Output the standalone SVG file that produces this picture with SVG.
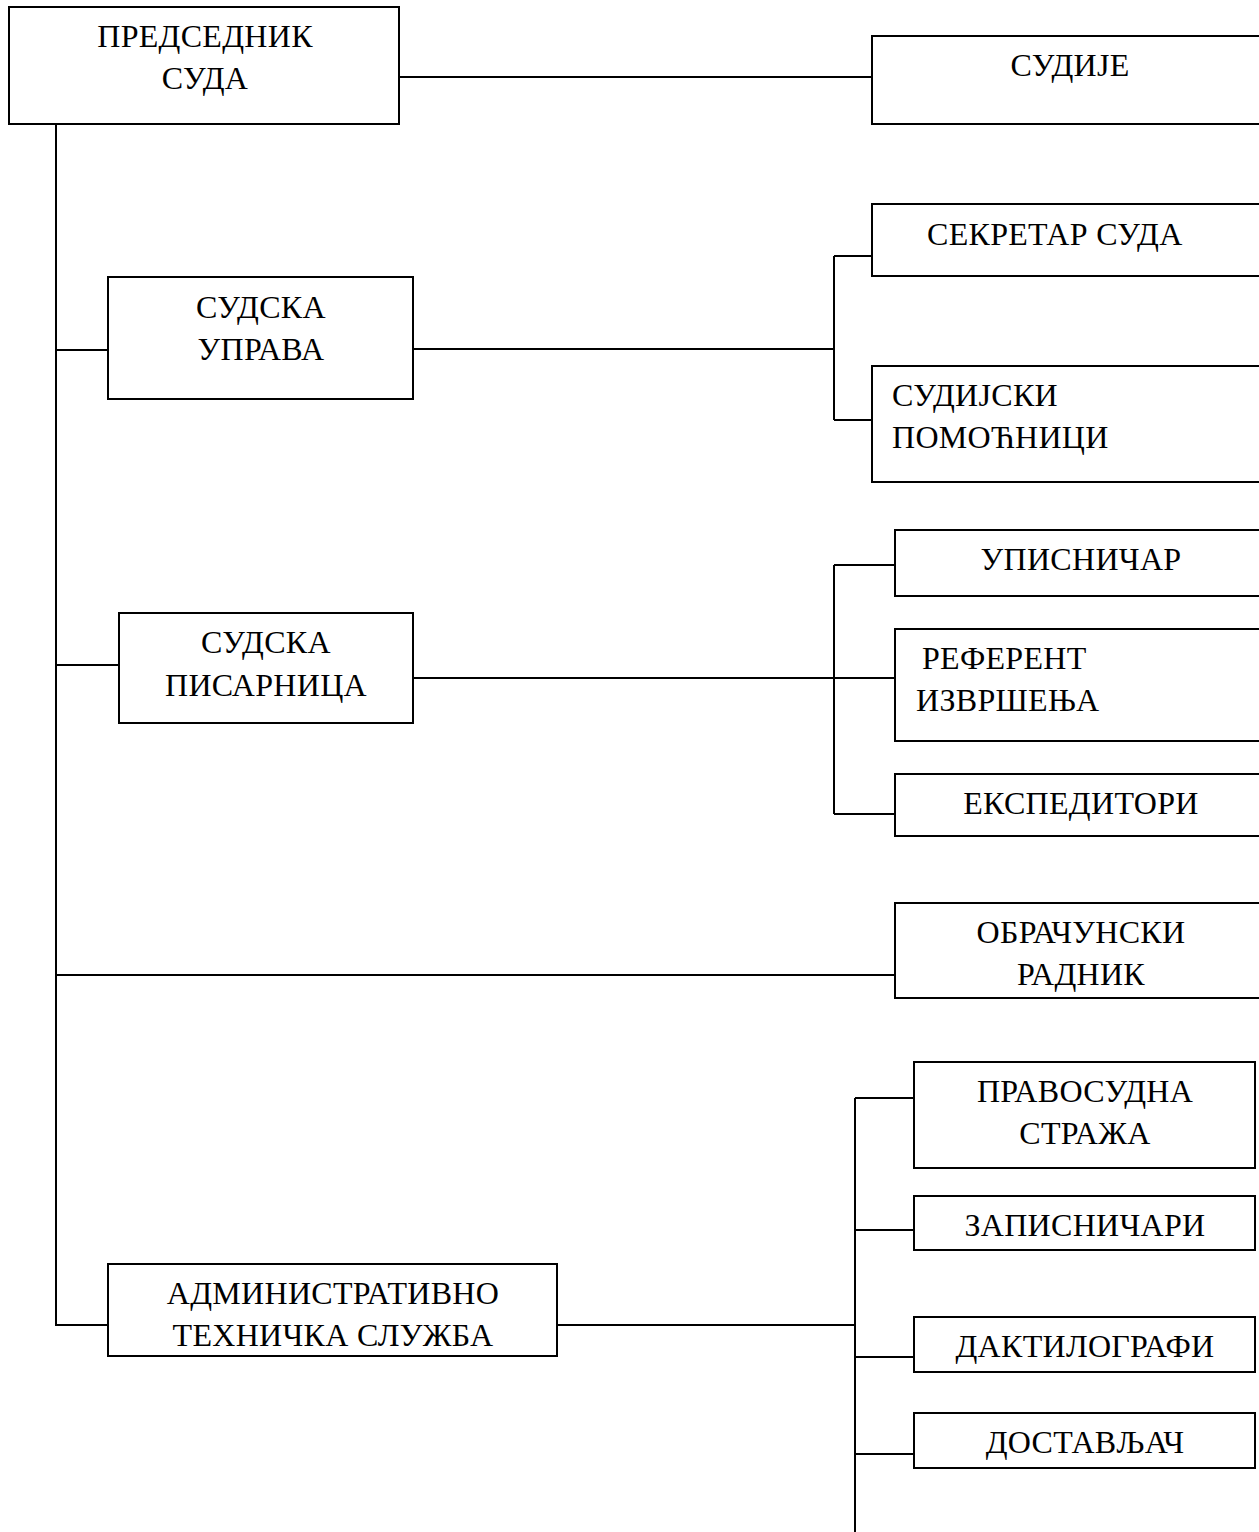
<svg xmlns="http://www.w3.org/2000/svg" width="1259" height="1532" viewBox="0 0 1259 1532">
<style>
.box{fill:#fff;stroke:#000;stroke-width:2}
.ln{fill:none;stroke:#000;stroke-width:2}
text{font-family:"Liberation Serif","Times New Roman",serif;font-size:32px;letter-spacing:0.3px;fill:#000}
.c{text-anchor:middle}
</style>
<rect width="1259" height="1532" fill="#fff"/>
<g id="connectors">
<path class="ln" d="M399,77 H873"/>
<path class="ln" d="M56,124 V1326"/>
<path class="ln" d="M56,350 H108"/>
<path class="ln" d="M413,349 H834 M834,256 V420 M834,256 H872 M834,420 H872"/>
<path class="ln" d="M56,665 H119"/>
<path class="ln" d="M413,678 H895 M834,565 V814 M834,565 H895 M834,814 H895"/>
<path class="ln" d="M56,975 H895"/>
<path class="ln" d="M56,1325 H108"/>
<path class="ln" d="M557,1325 H855 M855,1098 V1532 M855,1098 H914 M855,1230 H914 M855,1357 H914 M855,1454 H914"/>
</g>
<g id="n1"><rect class="box" x="9" y="7" width="390" height="117"/><text class="c" x="205" y="47">ПРЕДСЕДНИК</text><text class="c" x="205" y="89">СУДА</text></g>
<g id="n2"><rect class="box" x="872" y="36" width="400" height="88"/><text class="c" x="1070" y="76">СУДИЈЕ</text></g>
<g id="n3"><rect class="box" x="108" y="277" width="305" height="122"/><text class="c" x="261" y="318">СУДСКА</text><text class="c" x="261" y="360">УПРАВА</text></g>
<g id="n4"><rect class="box" x="872" y="204" width="400" height="72"/><text x="927" y="245">СЕКРЕТАР СУДА</text></g>
<g id="n5"><rect class="box" x="872" y="366" width="400" height="116"/><text x="892" y="406">СУДИЈСКИ</text><text x="892" y="448">ПОМОЋНИЦИ</text></g>
<g id="n6"><rect class="box" x="119" y="613" width="294" height="110"/><text class="c" x="266" y="653">СУДСКА</text><text class="c" x="266" y="696">ПИСАРНИЦА</text></g>
<g id="n7"><rect class="box" x="895" y="530" width="380" height="66"/><text class="c" x="1081" y="570">УПИСНИЧАР</text></g>
<g id="n8"><rect class="box" x="895" y="629" width="380" height="112"/><text x="922" y="669">РЕФЕРЕНТ</text><text x="916" y="711">ИЗВРШЕЊА</text></g>
<g id="n9"><rect class="box" x="895" y="774" width="380" height="62"/><text class="c" x="1081" y="814">ЕКСПЕДИТОРИ</text></g>
<g id="n10"><rect class="box" x="895" y="903" width="380" height="95"/><text class="c" x="1081" y="943">ОБРАЧУНСКИ</text><text class="c" x="1081" y="985">РАДНИК</text></g>
<g id="n11"><rect class="box" x="108" y="1264" width="449" height="92"/><text class="c" x="333" y="1304">АДМИНИСТРАТИВНО</text><text class="c" x="333" y="1346">ТЕХНИЧКА СЛУЖБА</text></g>
<g id="n12"><rect class="box" x="914" y="1062" width="341" height="106"/><text class="c" x="1085" y="1102">ПРАВОСУДНА</text><text class="c" x="1085" y="1144">СТРАЖА</text></g>
<g id="n13"><rect class="box" x="914" y="1196" width="341" height="54"/><text class="c" x="1085" y="1236">ЗАПИСНИЧАРИ</text></g>
<g id="n14"><rect class="box" x="914" y="1317" width="341" height="55"/><text class="c" x="1085" y="1357">ДАКТИЛОГРАФИ</text></g>
<g id="n15"><rect class="box" x="914" y="1413" width="341" height="55"/><text class="c" x="1085" y="1453">ДОСТАВЉАЧ</text></g>
</svg>
